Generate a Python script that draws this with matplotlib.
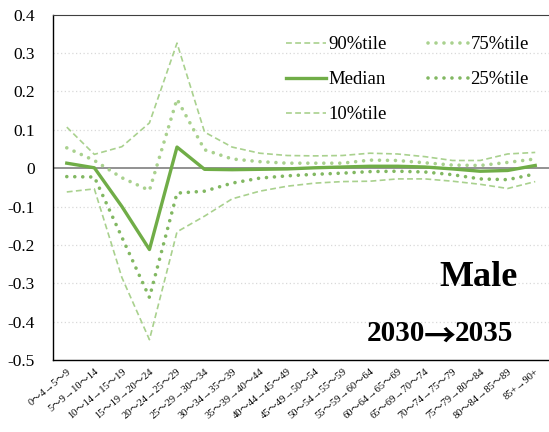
import matplotlib
matplotlib.use('Agg')
import matplotlib.pyplot as plt

plt.rcParams['font.family'] = ['Liberation Serif', 'Noto Sans CJK JP', 'DejaVu Sans']

ages = ['0～4→5～9', '5～9→10～14', '10～14→15～19', '15～19→20～24', '20～24→25～29',
        '25～29→30～34', '30～34→35～39', '35～39→40～44', '40～44→45～49', '45～49→50～54',
        '50～54→55～59', '55～59→60～64', '60～64→65～69', '65～69→70～74', '70～74→75～79',
        '75～79→80～84', '80～84→85～89', '85+→90+']

p90 = [0.107, 0.036, 0.056, 0.118, 0.326, 0.094, 0.055, 0.039, 0.033, 0.032,
       0.033, 0.039, 0.037, 0.030, 0.020, 0.020, 0.037, 0.041]
p75 = [0.053, 0.020, -0.025, -0.058, 0.180, 0.048, 0.024, 0.017, 0.013, 0.013,
       0.013, 0.021, 0.020, 0.014, 0.008, 0.007, 0.015, 0.024]
median = [0.013, 0.001, -0.100, -0.212, 0.055, -0.003, -0.004, -0.003, -0.002, 0.001,
          0.003, 0.005, 0.005, 0.003, -0.002, -0.008, -0.006, 0.007]
p25 = [-0.022, -0.023, -0.180, -0.337, -0.065, -0.060, -0.039, -0.026, -0.020, -0.016,
       -0.013, -0.009, -0.008, -0.010, -0.017, -0.028, -0.030, -0.015]
p10 = [-0.062, -0.054, -0.285, -0.447, -0.166, -0.125, -0.080, -0.060, -0.047, -0.039,
       -0.035, -0.034, -0.028, -0.028, -0.034, -0.042, -0.053, -0.035]

light = '#A9D18E'
dark = '#70AD47'
mid = '#82B862'

W, H = 549, 432
fig = plt.figure(figsize=(W / 100, H / 100), dpi=100)
ax = fig.add_axes([53 / W, 1 - 360 / H, 496 / W, (360 - 14.7) / H])

x = list(range(len(ages)))

for yv in [0.3, 0.2, 0.1, -0.1, -0.2, -0.3, -0.4]:
    ax.axhline(yv, color='#D9D9D9', lw=0.9, ls=(0, (1, 2)), zorder=0)
ax.axhline(0, color='#7F7F7F', lw=1.2, zorder=1)

l90, = ax.plot(x, p90, color=light, lw=1.2, ls=(0, (3.5, 2)), label='90%tile')
l75, = ax.plot(x, p75, color=light, lw=2.6, ls=(0, (0.01, 2.2)),
               dash_capstyle='round', label='75%tile')
lmed, = ax.plot(x, median, color=dark, lw=2.4, label='Median')
l25, = ax.plot(x, p25, color=mid, lw=2.6, ls=(0, (0.01, 2.2)),
               dash_capstyle='round', label='25%tile')
l10, = ax.plot(x, p10, color=light, lw=1.2, ls=(0, (3.5, 2)), label='10%tile')

ax.set_xlim(-0.5, len(ages) - 0.5)
ax.set_ylim(-0.5, 0.4)
ax.set_yticks([0.4, 0.3, 0.2, 0.1, 0, -0.1, -0.2, -0.3, -0.4, -0.5])
ax.set_yticklabels(['0.4', '0.3', '0.2', '0.1', '0', '-0.1', '-0.2', '-0.3', '-0.4', '-0.5'],
                   fontsize=12.5)
ax.tick_params(axis='y', length=0, pad=13)
ax.set_xticks(x)
ax.set_xticklabels(ages, rotation=40, ha='right', rotation_mode='anchor', fontsize=7.5)
ax.tick_params(axis='x', length=0, pad=5)

for s in ['left', 'bottom']:
    ax.spines[s].set_color('#000000')
    ax.spines[s].set_linewidth(1.0)
ax.spines['top'].set_color('#404040')
ax.spines['right'].set_visible(False)

ax.legend(handles=[l90, lmed, l10, l75, l25], ncol=2, frameon=False, fontsize=13.5,
          loc='upper left', bbox_to_anchor=(0.4516, 0.965), borderpad=0,
          handlelength=2.1, handletextpad=0.15, columnspacing=2.2, labelspacing=0.95)

fig.text(518 / W, 1 - 286 / H, 'Male', fontsize=26, fontweight='bold', ha='right')
fig.text(425 / W, 1 - 341 / H, '2030', fontsize=21, fontweight='bold', ha='right')
fig.text(440 / W, 1 - 348 / H, '→', fontsize=23, fontweight='bold', ha='center',
         family=['Noto Sans CJK JP'])
fig.text(455 / W, 1 - 341 / H, '2035', fontsize=21, fontweight='bold', ha='left')

fig.savefig('out.png', dpi=100)
